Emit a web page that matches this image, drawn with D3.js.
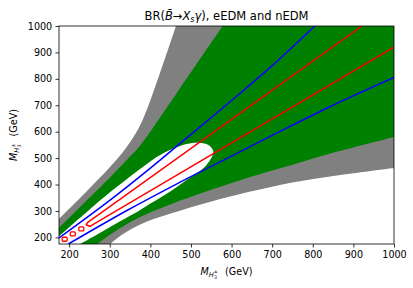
<!DOCTYPE html>
<html>
<head>
<meta charset="utf-8">
<script src="https://cdnjs.cloudflare.com/ajax/libs/d3/7.8.5/d3.min.js"></script>
<style>
body { margin: 0; background: #fff; }
svg { display: block; }
text { font-family: "DejaVu Sans", sans-serif; }
</style>
</head>
<body>
<div id="chart"></div>
<script>
// tick labels
var xTicks = [200, 300, 400, 500, 600, 700, 800, 900, 1000];
var yTicks = [200, 300, 400, 500, 600, 700, 800, 900, 1000];

// region boundaries, [M_x, M_y] in GeV
var grayUpper = [[175, 270], [250, 385], [300, 465], [340, 538], [375, 625], [422, 815], [463, 1000]];
var greenUpper = [[175, 236], [250, 350], [300, 426], [340, 490], [375, 548], [420, 645], [470, 758], [520, 870], [578, 1000]];
var greenLower = [[269, 175], [320, 230], [375, 277], [450, 325], [550, 380], [650, 430], [750, 475], [850, 520], [1000, 580]];
var grayLower = [[301, 175], [330, 210], [375, 249], [450, 290], [584, 350], [700, 392], [786, 417], [900, 443], [1000, 463]];
// white hole inside the green band
var hole = [[175, 205], [250, 305], [300, 370], [394, 481], [420, 508], [456, 536], [490, 553], [515, 558],
            [538, 553], [550, 540], [555, 525], [550, 500], [540, 478], [526, 456], [490, 418], [448, 373],
            [400, 328], [375, 304], [320, 256], [270, 212], [227, 175]];

// contour lines
var blueUpper = [[175, 198], [300, 340], [400, 462], [500, 590], [600, 718], [700, 850], [805, 1000]];
var blueLower = [[198, 175], [340, 300], [462, 400], [590, 500], [718, 600], [850, 700], [1000, 805]];
var redLoop = [[1000, 920], [251, 242], [242, 248], [245, 256], [921, 1000]];
var redIslands = [[189, 193], [209, 213], [230, 232]];

var width = 413, height = 288;
var margin = {top: 26, right: 19, bottom: 44, left: 59};
var w = width - margin.left - margin.right;
var h = height - margin.top - margin.bottom;

var svg = d3.select("#chart")
    .append("svg")
    .attr("width", width)
    .attr("height", height);

var g = svg.append("g")
    .attr("transform", "translate(" + margin.left + "," + margin.top + ")");

var x = d3.scaleLinear().domain([175, 1000]).range([0, w]);
var y = d3.scaleLinear().domain([175, 1000]).range([h, 0]);

g.append("clipPath").attr("id", "plot")
  .append("rect").attr("width", w).attr("height", h);

var line = d3.line()
    .x(function(d) { return x(d[0]); })
    .y(function(d) { return y(d[1]); });
var smooth = d3.line()
    .x(function(d) { return x(d[0]); })
    .y(function(d) { return y(d[1]); })
    .curve(d3.curveCatmullRom);

// corners that sit outside the plot, the clip cuts them off
var far = "L" + x(1100) + "," + y(1100);
var near = "L" + x(100) + "," + y(100);

function band(upper, lower) {
    return smooth(upper) + far + smooth(lower.slice().reverse()).replace(/^M/, "L") + near + "Z";
}

var area = g.append("g").attr("clip-path", "url(#plot)");

area.append("path").attr("d", band(grayUpper, grayLower)).attr("fill", "#808080");
area.append("path").attr("d", band(greenUpper, greenLower)).attr("fill", "#008000");
area.append("path").attr("d", smooth(hole) + near + "Z").attr("fill", "#ffffff");

area.selectAll(".blue")
    .data([blueUpper, blueLower])
    .enter()
    .append("path")
    .attr("d", smooth)
    .attr("fill", "none")
    .attr("stroke", "#0000ff")
    .attr("stroke-width", 1.5);

area.append("path")
    .attr("d", line(redLoop))
    .attr("fill", "none")
    .attr("stroke", "#ff0000")
    .attr("stroke-width", 1.5)
    .attr("stroke-linejoin", "round");

area.selectAll(".island")
    .data(redIslands)
    .enter()
    .append("rect")
    .attr("x", function(d) { return x(d[0]) - 2.5; })
    .attr("y", function(d) { return y(d[1]) - 2; })
    .attr("width", 5)
    .attr("height", 4)
    .attr("rx", 1)
    .attr("fill", "none")
    .attr("stroke", "#ff0000")
    .attr("stroke-width", 1.3);

// axes
var xAxis = g.append("g")
    .attr("transform", "translate(0," + h + ")")
    .call(d3.axisBottom(x).tickValues(xTicks).tickFormat(d3.format("d")).tickSize(3.5).tickPadding(3.3).tickSizeOuter(0));
var yAxis = g.append("g")
    .call(d3.axisLeft(y).tickValues(yTicks).tickFormat(d3.format("d")).tickSize(3.5).tickPadding(3.3).tickSizeOuter(0));

[xAxis, yAxis].forEach(function(a) {
    a.select(".domain").remove();
    a.selectAll("text").attr("font-family", "DejaVu Sans").attr("font-size", "9.6px").attr("fill", "#000");
    a.selectAll("line").attr("stroke", "#000").attr("stroke-width", 0.8);
});

g.append("rect")
    .attr("width", w).attr("height", h)
    .attr("fill", "none").attr("stroke", "#000").attr("stroke-width", 0.8);

// axis labels, M_{H_3^pm}
function massLabel(t) {
    t.append("tspan").attr("font-style", "italic").text("M");
    t.append("tspan").attr("font-style", "italic").attr("font-size", "6.7px").attr("dy", 2.2).text("H");
    t.append("tspan").attr("font-size", "4.8px").attr("dy", -4).text("\u00b1");
    t.append("tspan").attr("font-size", "4.8px").attr("dx", -4).attr("dy", 5.5).text("3");
    t.append("tspan").attr("dy", -3.7).attr("dx", 2).text("\u00a0\u00a0(GeV)");
}

g.append("text")
    .attr("x", w / 2).attr("y", h + 31)
    .attr("text-anchor", "middle")
    .attr("font-size", "9.6px")
    .call(massLabel);

g.append("text")
    .attr("transform", "translate(" + (-42) + "," + (h / 2) + ") rotate(-90)")
    .attr("text-anchor", "middle")
    .attr("font-size", "9.6px")
    .call(massLabel);

// title
var title = g.append("text")
    .attr("x", w / 2).attr("y", -6)
    .attr("text-anchor", "middle")
    .attr("font-size", "11.5px");
title.append("tspan").text("BR(");
title.append("tspan").attr("font-style", "italic").text("B\u0304");
title.append("tspan").text("\u2192");
title.append("tspan").attr("font-style", "italic").text("X");
title.append("tspan").attr("font-style", "italic").attr("font-size", "8px").attr("dy", 2).text("s");
title.append("tspan").attr("font-style", "italic").attr("dy", -2).text("\u03b3");
title.append("tspan").text("), eEDM and nEDM");
</script>
</body>
</html>
